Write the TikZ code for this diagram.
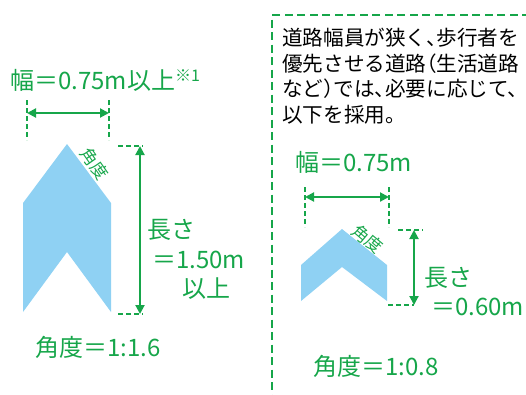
\documentclass[tikz,border=0pt]{standalone}
\usepackage{fontspec}
\usepackage{tikz}
\usetikzlibrary{positioning, arrows.meta}
\newfontfamily\jpfont{Noto Sans CJK JP}
\newfontfamily\jphalt[RawFeature=+halt]{Noto Sans CJK JP}
\definecolor{markgreen}{RGB}{22,166,74}
\definecolor{markblue}{RGB}{143,209,243}

\begin{document}
\begin{tikzpicture}
    [
        x=1pt, y=-1pt,
        green_label/.style={text=markgreen, inner sep=0pt, font=\jpfont\fontsize{24}{24}\selectfont},
        small_label/.style={text=markgreen, inner sep=0pt, font=\jpfont\fontsize{17}{17}\selectfont},
        black_text/.style={text=black, inner sep=0pt, anchor=base west, font=\jphalt\fontsize{20.6}{21}\selectfont},
        dim_arrow/.style={{Triangle[length=9pt,width=9pt]}-{Triangle[length=9pt,width=9pt]}, line width=2pt, draw=markgreen},
        ext_line/.style={line width=1.6pt, draw=markgreen, dash pattern=on 5pt off 3pt},
        frame_line/.style={line width=2pt, draw=markgreen, dash pattern=on 8pt off 4.5pt},
        mark_shape/.style={fill=markblue, draw=none},
    ]
        \useasboundingbox (0,0) rectangle (526,394);

        % left mark (standard)
        \fill[mark_shape] (67,144) -- (111,203) -- (111,312) -- (67,252) -- (23,312) -- (23,203) -- cycle;
        \node[green_label, anchor=base west] (w1) at (10,89) {幅＝0.75m以上{\fontsize{16}{16}\selectfont\raisebox{8pt}{※1}}};
        \node[small_label, rotate=-55] (a1) at (95,164) {角度};
        \node[green_label, anchor=base west] (h1) at (147,238) {長さ};
        \node[green_label, anchor=base west] (h1b) at (152,268) {＝1.50m};
        \node[green_label, anchor=base west] (h1c) at (182,297) {以上};
        \node[green_label, anchor=base west] (r1) at (35,356) {角度＝1:1.6};
        \coordinate (e1lt) at (27,100);  \coordinate (e1lb) at (27,140);
        \coordinate (e1rt) at (109,100); \coordinate (e1rb) at (109,140);
        \coordinate (w1l) at (27,113);   \coordinate (w1r) at (109,113);
        \coordinate (t1l) at (118,146);  \coordinate (t1r) at (143,146);
        \coordinate (b1l) at (118,314);  \coordinate (b1r) at (143,314);
        \coordinate (v1t) at (140,146);  \coordinate (v1b) at (140,314);
        \draw[ext_line] (e1lt) to (e1lb);
        \draw[ext_line] (e1rt) to (e1rb);
        \draw[ext_line] (t1l) to (t1r);
        \draw[ext_line] (b1l) to (b1r);
        \draw[dim_arrow] (w1l) to (w1r);
        \draw[dim_arrow] (v1t) to (v1b);

        % right box (narrow roads)
        \coordinate (f1) at (530,15); \coordinate (f2) at (272,15); \coordinate (f3) at (272,398);
        \draw[frame_line] (f1) -- (f2) -- (f3);
        \node[black_text] (l1) at (282,45) {道路幅員が狭く、歩行者を};
        \node[black_text] (l2) at (282,71) {優先させる道路（生活道路};
        \node[black_text] (l3) at (282,96) {など）では、必要に応じて、};
        \node[black_text] (l4) at (282,122) {以下を採用。};

        % right mark (short)
        \fill[mark_shape] (342,229) -- (387,265) -- (387,301) -- (342,267) -- (301,301) -- (301,265) -- cycle;
        \node[green_label, anchor=base west] (w2) at (295,171) {幅＝0.75m};
        \node[small_label, rotate=-40] (a2) at (368,239) {角度};
        \node[green_label, anchor=base west] (h2) at (424,286) {長さ};
        \node[green_label, anchor=base west] (h2b) at (431,315) {＝0.60m};
        \node[green_label, anchor=base west] (r2) at (313,375) {角度＝1:0.8};
        \coordinate (e2lt) at (305,187); \coordinate (e2lb) at (305,227);
        \coordinate (e2rt) at (389,187); \coordinate (e2rb) at (389,227);
        \coordinate (w2l) at (305,197);  \coordinate (w2r) at (389,197);
        \coordinate (t2l) at (398,230);  \coordinate (t2r) at (423,230);
        \coordinate (b2l) at (388,305);  \coordinate (b2r) at (414,305);
        \coordinate (v2t) at (414,230);  \coordinate (v2b) at (414,305);
        \draw[ext_line] (e2lt) to (e2lb);
        \draw[ext_line] (e2rt) to (e2rb);
        \draw[ext_line] (t2l) to (t2r);
        \draw[ext_line] (b2l) to (b2r);
        \draw[dim_arrow] (w2l) to (w2r);
        \draw[dim_arrow] (v2t) to (v2b);
\end{tikzpicture}
\end{document}
